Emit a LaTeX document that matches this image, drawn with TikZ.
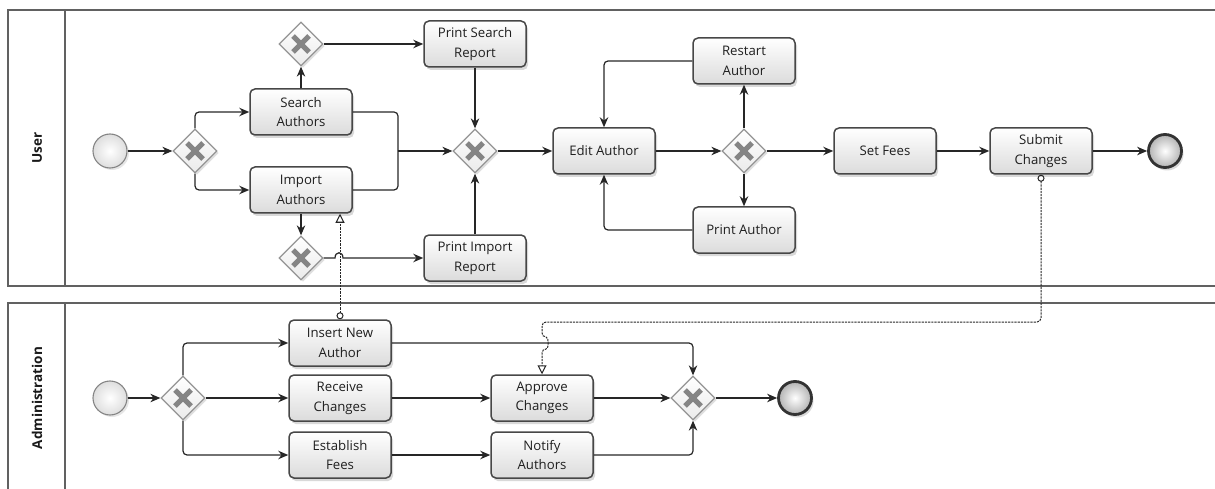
\documentclass[tikz,border=0pt]{standalone}
\usepackage{fontspec}
\setmainfont{Open Sans}
\usetikzlibrary{shapes.geometric,arrows.meta,shadows,calc}
\begin{document}
\begin{tikzpicture}[x=1pt,y=-1pt,
  lane/.style={draw=black!62, line width=1.4pt},
  lanelabel/.style={rotate=90, font=\fontsize{13.5}{16}\selectfont\bfseries, text=black!90},
  task/.style={draw=black!72, line width=1.5pt, rounded corners=5pt, top color=white, bottom color=black!14,
    minimum width=102pt, minimum height=46pt, align=center, inner sep=2pt,
    font=\fontsize{13.2}{19.5}\selectfont, text=black!88,
    drop shadow={opacity=0.3, shadow xshift=2pt, shadow yshift=-3pt}},
  gw/.style={diamond, aspect=1, draw=black!42, line width=1.3pt, top color=white, bottom color=black!8,
    minimum width=44pt, minimum height=44pt, inner sep=0pt,
    drop shadow={opacity=0.25, shadow xshift=2pt, shadow yshift=-2pt},
    path picture={\draw[line width=5pt, black!48]
      ([xshift=-8pt,yshift=-8pt]path picture bounding box.center) -- ([xshift=8pt,yshift=8pt]path picture bounding box.center)
      ([xshift=-8pt,yshift=8pt]path picture bounding box.center) -- ([xshift=8pt,yshift=-8pt]path picture bounding box.center);}},
  startev/.style={circle, draw=black!48, line width=1.1pt, inner color=white, outer color=black!13,
    minimum size=34pt, inner sep=0pt, drop shadow={opacity=0.2, shadow xshift=2pt, shadow yshift=-2pt}},
  endev/.style={circle, draw=black!80, line width=2.8pt, inner color=white, outer color=black!30,
    minimum size=33pt, inner sep=0pt, drop shadow={opacity=0.3, shadow xshift=2pt, shadow yshift=-3pt}},
  conn/.style={line width=1.2pt, draw=black!85},
  flow/.style={conn, -{Stealth[length=10pt,width=8.5pt]}},
  msg/.style={line width=1pt, draw=black!85, dash pattern=on 2.2pt off 1pt,
    {Circle[open,length=7pt,width=7pt]}-{Triangle[open,length=9pt,width=9pt]}}
]
\useasboundingbox (0,0) rectangle (1215,489);
% lanes
\draw[lane] (1220,10) -- (8,10) -- (8,286) -- (1220,286);
\draw[lane] (65,10) -- (65,286);
\draw[lane] (1220,303) -- (8,303) -- (8,495);
\draw[lane] (65,303) -- (65,495);
\node[lanelabel] (lu) at (37,148) {User};
\node[lanelabel] (la) at (37,398) {Administration};

% user lane nodes
\node[startev] (us) at (110,151) {};
\node[gw] (g1) at (195,151) {};
\node[task] (sa) at (301,112) {Search\\Authors};
\node[task] (ia) at (301,190) {Import\\Authors};
\node[gw] (g2) at (301,44) {};
\node[gw] (g3) at (301,258) {};
\node[task] (psr) at (475,44) {Print Search\\Report};
\node[task] (pir) at (475,258) {Print Import\\Report};
\node[gw] (g4) at (475,151) {};
\node[task] (ea) at (604,151) {Edit Author};
\node[gw] (g5) at (744,151) {};
\node[task] (ra) at (744,61) {Restart\\Author};
\node[task] (pa) at (744,230) {Print Author};
\node[task] (sf) at (885,151) {Set Fees};
\node[task] (sc) at (1041,151) {Submit\\Changes};
\node[endev] (ue) at (1165,151) {};

% admin lane nodes
\node[startev] (as) at (110,398) {};
\node[gw] (g6) at (183,398) {};
\node[task] (ina) at (340,343) {Insert New\\Author};
\node[task] (rc) at (340,398) {Receive\\Changes};
\node[task] (ef) at (340,455) {Establish\\Fees};
\node[task] (ac) at (542,398) {Approve\\Changes};
\node[task] (na) at (542,455) {Notify\\Authors};
\node[gw] (g7) at (693,398) {};
\node[endev] (ae) at (795,398) {};

% user flows
\draw[flow] (us) -- (g1);
\draw[flow, rounded corners=4pt] (g1.north) |- (sa.west);
\draw[flow, rounded corners=4pt] (g1.south) |- (ia.west);
\draw[flow] (sa) -- (g2);
\draw[flow] (ia) -- (g3);
\draw[flow] (g2) -- (psr);
\draw[flow] (g3.east) -- (335,258) .. controls (335,251) and (343,251) .. (343,258) -- (pir.west);
\coordinate (j1) at (398,151);
\draw[conn, rounded corners=4pt] (sa.east) -| (j1);
\draw[conn, rounded corners=4pt] (ia.east) -| (j1);
\draw[flow] (j1) -- (g4);
\draw[flow] (psr) -- (g4);
\draw[flow] (pir) -- (g4);
\draw[flow] (g4) -- (ea);
\draw[flow] (ea) -- (g5);
\draw[flow] (g5) -- (ra);
\draw[flow] (g5) -- (pa);
\draw[flow, rounded corners=4pt] (ra.west) -| (ea.north);
\draw[flow, rounded corners=4pt] (pa.west) -| (ea.south);
\draw[flow] (g5) -- (sf);
\draw[flow] (sf) -- (sc);
\draw[flow] (sc) -- (ue);

% admin flows
\draw[flow] (as) -- (g6);
\draw[flow, rounded corners=4pt] (g6.north) |- (ina.west);
\draw[flow] (g6) -- (rc);
\draw[flow, rounded corners=4pt] (g6.south) |- (ef.west);
\draw[flow, rounded corners=4pt] (ina.east) -| (g7.north);
\draw[flow] (rc) -- (ac);
\draw[flow] (ef) -- (na);
\draw[flow] (ac) -- (g7);
\draw[flow, rounded corners=4pt] (na.east) -| (g7.south);
\draw[flow] (g7) -- (ae);

% message flows
\draw[msg] (ina.north) -- (ina.north |- ia.south);
\draw[msg, rounded corners=4pt] (sc.south) |- (542,322) -- (542,337) .. controls (549,337) and (549,349) .. (542,349) -- (ac.north);
\end{tikzpicture}
\end{document}
